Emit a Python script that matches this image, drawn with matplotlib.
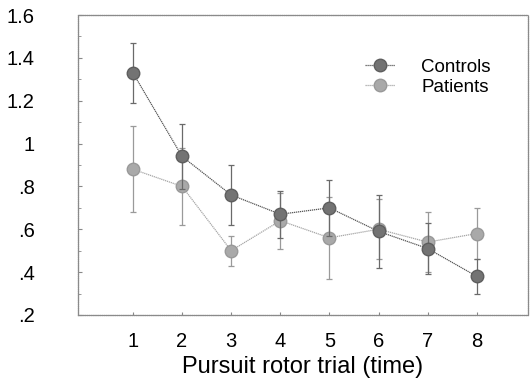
import matplotlib.pyplot as plt
from matplotlib.lines import Line2D
from matplotlib.ticker import FixedLocator, FixedFormatter, MultipleLocator

plt.rcParams['font.family'] = ['Liberation Sans', 'DejaVu Sans']

trials = [1, 2, 3, 4, 5, 6, 7, 8]
controls = [1.33, 0.94, 0.76, 0.67, 0.70, 0.59, 0.51, 0.38]
controls_err = [0.14, 0.15, 0.14, 0.11, 0.13, 0.17, 0.12, 0.08]
patients = [0.88, 0.80, 0.50, 0.64, 0.56, 0.60, 0.54, 0.58]
patients_err = [0.20, 0.18, 0.07, 0.13, 0.19, 0.14, 0.14, 0.12]

y_ticks = [0.2, 0.4, 0.6, 0.8, 1.0, 1.2, 1.4, 1.6]
y_labels = ['.2', '.4', '.6', '.8', '1', '1.2', '1.4', '1.6']

fig = plt.figure(figsize=(5.3, 3.85), dpi=100)
ax = fig.add_axes([0.147, 0.182, 0.849, 0.779])

line_style = (0, (1, 0.6))
# patients first so controls sit on top
ax.errorbar(trials, patients, yerr=patients_err, color='#a6a6a6', ecolor='#9a9a9a',
            elinewidth=0.9, capsize=2, capthick=0.9, lw=0.9, ls=line_style,
            marker='o', ms=9, mfc='#a9a9a9', mec='#999999', zorder=2)
ax.errorbar(trials, controls, yerr=controls_err, color='#555555', ecolor='#6a6a6a',
            elinewidth=0.9, capsize=2, capthick=0.9, lw=0.9, ls=line_style,
            marker='o', ms=9, mfc='#737373', mec='#5e5e5e', zorder=3)

ax.set_xlim(-0.12, 9.04)
ax.set_ylim(0.2, 1.6)
ax.set_xticks(trials)
ax.yaxis.set_major_locator(FixedLocator(y_ticks))
ax.yaxis.set_major_formatter(FixedFormatter(y_labels))
ax.yaxis.set_minor_locator(MultipleLocator(0.1))
ax.tick_params(axis='y', which='both', direction='in', length=3, color='#888888',
               labelsize=14.5, pad=31)
ax.tick_params(axis='y', which='minor', length=2)
ax.tick_params(axis='x', direction='in', length=2, color='#888888', labelsize=14.5, pad=12)

for side in ['left', 'right', 'top', 'bottom']:
    ax.spines[side].set_color('#8a8a8a')
    ax.spines[side].set_linestyle((0, (1, 0.5)))
    ax.spines[side].set_linewidth(0.9)

ax.set_xlabel('Pursuit rotor trial (time)', fontsize=17, labelpad=4)

handles = [
    Line2D([], [], color='#555555', lw=0.9, ls=line_style, marker='o', ms=9,
           mfc='#737373', mec='#5e5e5e'),
    Line2D([], [], color='#a6a6a6', lw=0.9, ls=line_style, marker='o', ms=9,
           mfc='#a9a9a9', mec='#999999'),
]
ax.legend(handles, ['Controls', 'Patients'], loc='upper left', bbox_to_anchor=(0.6, 0.91),
          frameon=False, fontsize=13.5, handlelength=1.6, handletextpad=1.4,
          labelspacing=0.15)

fig.savefig('out.png', dpi=100)
